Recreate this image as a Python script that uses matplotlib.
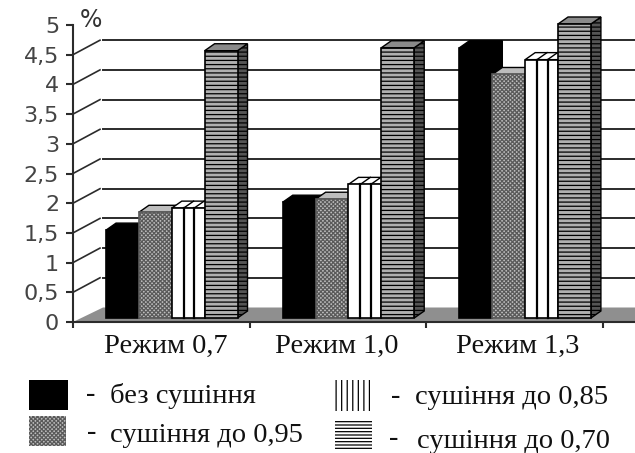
import matplotlib
matplotlib.use("Agg")
import matplotlib.pyplot as plt
from matplotlib.patches import Polygon, Rectangle

W, H = 635, 453
DARK = "#2b2b2b"

REGIMES = ["Режим 0,7", "Режим 1,0", "Режим 1,3"]
BEZ_SUSHINNYA = [1.48, 1.95, 4.55]
SUSHINNYA_095 = [1.78, 2.0, 4.1]
SUSHINNYA_085 = [1.85, 2.25, 4.35]
SUSHINNYA_070 = [4.5, 4.55, 4.95]
Y_TICKS = [0, 0.5, 1, 1.5, 2, 2.5, 3, 3.5, 4, 4.5, 5]
Y_LABELS = ["0", "0,5", "1", "1,5", "2", "2,5", "3", "3,5", "4", "4,5", "5"]

plt.rcParams["hatch.linewidth"] = 0.9

# pixels per data unit, 3d depth is given in pixels
PX_X = 176.7
PX_Y = 59.4
WALL_X = 30 / PX_X
WALL_Y = 14.5 / PX_Y
DEPTH_X = 10 / PX_X
DEPTH_Y = 7 / PX_Y
BAR_W = 0.186
BAR_START = 0.187
BASE = 0.067


def px(x, y):
    return x / W, 1 - y / H


fig = plt.figure(figsize=(W / 100, H / 100), dpi=100, facecolor="white")
ax = fig.add_axes([73 / W, (H - 322) / H, (W - 73) / W, 297 / H])
ax.set_xlim(0, (W - 73) / PX_X)
ax.set_ylim(0, 5)
ax.spines["top"].set_visible(False)
ax.spines["right"].set_visible(False)
ax.spines["left"].set_color(DARK)
ax.spines["bottom"].set_color(DARK)
ax.spines["left"].set_linewidth(1.5)
ax.spines["bottom"].set_linewidth(1.5)

# floor and back wall lines
xmax = ax.get_xlim()[1]
ax.add_patch(Polygon([(0, 0), (WALL_X, WALL_Y), (xmax, WALL_Y), (xmax, 0)],
                     closed=True, fc="#8f8f8f", ec="none", zorder=1))
for v in Y_TICKS[1:-1]:
    ax.plot([WALL_X, xmax], [v + WALL_Y, v + WALL_Y], color=DARK, lw=1.4, zorder=2)
    ax.plot([0, WALL_X * 0.9], [v, v + WALL_Y], color=DARK, lw=1.2, zorder=2)

series = [
    (BEZ_SUSHINNYA, "black", "black", None),
    (SUSHINNYA_095, "#bdbdbd", "#5a5a5a", "xxxxxxxx"),
    (SUSHINNYA_085, "white", "black", None),
    (SUSHINNYA_070, "#b0b0b0", "black", "----"),
]

z = 3
for g in range(len(REGIMES)):
    for s, (vals, fc, ec, hatch) in enumerate(series):
        x0 = g + BAR_START + s * BAR_W
        top = BASE + vals[g]
        x1 = x0 + BAR_W
        side_fc = "#555555" if hatch == "----" else fc
        ax.add_patch(Polygon([(x1, BASE), (x1 + DEPTH_X, BASE + DEPTH_Y),
                              (x1 + DEPTH_X, top + DEPTH_Y), (x1, top)],
                             closed=True, fc=side_fc, ec="black", lw=1,
                             hatch=hatch, zorder=z, clip_on=False))
        ax.add_patch(Polygon([(x0, top), (x0 + DEPTH_X, top + DEPTH_Y),
                              (x1 + DEPTH_X, top + DEPTH_Y), (x1, top)],
                             closed=True, fc="#8a8a8a" if hatch == "----" else fc,
                             ec="black", lw=1, zorder=z, clip_on=False))
        bars = ax.bar(x0, vals[g], BAR_W, bottom=BASE, align="edge", color=fc,
                      edgecolor=ec, hatch=hatch, linewidth=1.2, zorder=z + 1)
        bars[0].set_clip_on(False)
        if fc == "white":
            for f in (0.36, 0.68):
                xv = x0 + f * BAR_W
                ax.plot([xv, xv], [BASE, top], color="black", lw=1.6, zorder=z + 2)
                ax.plot([xv + DEPTH_X, xv], [top + DEPTH_Y, top], color="black",
                        lw=1, zorder=z + 2)
        z += 3

ax.set_yticks(Y_TICKS)
ax.set_yticklabels(Y_LABELS, fontsize=16, color="#444444")
ax.tick_params(axis="y", length=5, width=1.5, color=DARK, pad=5)
ax.set_xticks([0, 1, 2, 3])
ax.set_xticklabels([])
ax.tick_params(axis="x", length=4, width=1.5, color=DARK)

serif = "Liberation Serif"
for name, cx in zip(REGIMES, [166, 337, 518]):
    fig.text(*px(cx, 346), name, ha="center", va="center", family=serif,
             fontsize=20.5, color="#111111")
fig.text(*px(91, 20), "%", ha="center", va="center", fontsize=17, color="#333333")

# legend drawn by hand, it sits under the axes in two columns
legend_boxes = [
    (29, 380, 39, 30, "black", "black", None),
    (29, 416, 37, 30, "#bdbdbd", "#5a5a5a", "xxxxxxxx"),
    (335, 380, 35, 31, "white", "black", "|||"),
    (335, 420, 37, 30, "white", "black", "-----"),
]
for x, y, w, h, fc, ec, hatch in legend_boxes:
    fig.add_artist(Rectangle(px(x, y + h), w / W, h / H, transform=fig.transFigure,
                             fc=fc, ec=ec, hatch=hatch, lw=0))

legend_texts = [
    (91, 110, 396, "без сушіння"),
    (92, 110, 435, "сушіння до 0,95"),
    (396, 415, 398, "сушіння до 0,85"),
    (394, 417, 441, "сушіння до 0,70"),
]
for xd, xt, y, txt in legend_texts:
    fig.text(*px(xd, y - 2), "-", ha="center", va="center", family=serif,
             fontsize=20.5, color="#111111")
    fig.text(*px(xt, y), txt, ha="left", va="center", family=serif,
             fontsize=20.5, color="#111111")

fig.savefig("out.png", dpi=100, facecolor="white")
